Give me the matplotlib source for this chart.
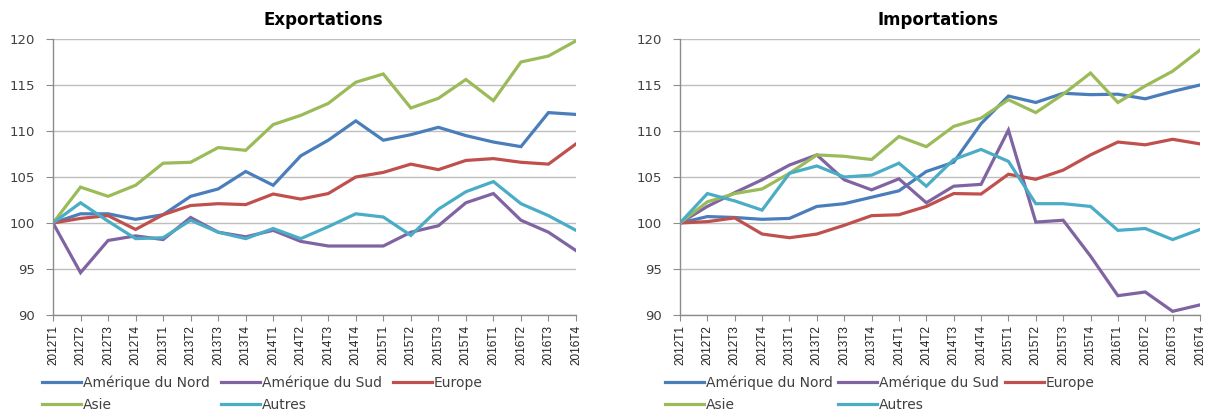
import matplotlib
matplotlib.use("Agg")
import matplotlib.pyplot as plt
from matplotlib import font_manager

quarters = ["2012T1", "2012T2", "2012T3", "2012T4", "2013T1", "2013T2", "2013T3", "2013T4",
            "2014T1", "2014T2", "2014T3", "2014T4", "2015T1", "2015T2", "2015T3", "2015T4",
            "2016T1", "2016T2", "2016T3", "2016T4"]
series_names = ["Amérique du Nord", "Amérique du Sud", "Europe", "Asie", "Autres"]

exp_amn = [100, 101.0, 101.0, 100.4, 100.9, 102.9, 103.7, 105.6, 104.1, 107.3, 109.0, 111.1,
           109.0, 109.6, 110.4, 109.5, 108.8, 108.3, 112.0, 111.8]
exp_ams = [100, 94.6, 98.1, 98.6, 98.2, 100.6, 99.0, 98.5, 99.2, 98.0, 97.5, 97.5,
           97.5, 99.0, 99.7, 102.2, 103.2, 100.3, 99.0, 97.0]
exp_eur = [100, 100.5, 100.8, 99.3, 100.9, 101.9, 102.1, 102.0, 103.15, 102.6, 103.2, 105.0,
           105.5, 106.4, 105.8, 106.8, 107.0, 106.6, 106.4, 108.6]
exp_asi = [100, 103.9, 102.9, 104.1, 106.5, 106.6, 108.2, 107.9, 110.7, 111.7, 113.0, 115.3,
           116.2, 112.5, 113.55, 115.6, 113.3, 117.5, 118.15, 119.8]
exp_aut = [100, 102.2, 100.2, 98.3, 98.4, 100.3, 99.0, 98.3, 99.4, 98.3, 99.6, 101.0,
           100.65, 98.65, 101.5, 103.4, 104.5, 102.1, 100.8, 99.2]

imp_amn = [100, 100.7, 100.6, 100.4, 100.5, 101.8, 102.1, 102.8, 103.5, 105.6, 106.6, 110.8,
           113.8, 113.1, 114.1, 113.95, 114.0, 113.5, 114.3, 115.0]
imp_ams = [100, 101.8, 103.3, 104.7, 106.3, 107.4, 104.7, 103.6, 104.8, 102.2, 104.0, 104.2,
           110.1, 100.1, 100.3, 96.4, 92.1, 92.5, 90.4, 91.1]
imp_eur = [100, 100.15, 100.55, 98.8, 98.4, 98.8, 99.75, 100.8, 100.9, 101.8, 103.2, 103.15,
           105.3, 104.75, 105.75, 107.4, 108.8, 108.5, 109.1, 108.6]
imp_asi = [100, 102.3, 103.2, 103.7, 105.4, 107.4, 107.25, 106.9, 109.4, 108.3, 110.5, 111.4,
           113.4, 112.0, 114.0, 116.3, 113.1, 114.9, 116.5, 118.8]
imp_aut = [100, 103.2, 102.4, 101.4, 105.4, 106.2, 105.0, 105.2, 106.5, 104.0, 106.9, 108.0,
           106.7, 102.1, 102.1, 101.8, 99.2, 99.4, 98.2, 99.3]

y_ticks = [90, 95, 100, 105, 110, 115, 120]
colors = ["#4A7EBB", "#8064A2", "#C0504D", "#9BBB59", "#4BACC6"]

names = {f.name for f in font_manager.fontManager.ttflist}
narrow = "Liberation Sans Narrow" if "Liberation Sans Narrow" in names else "Liberation Sans"
xt_size = 10 if narrow == "Liberation Sans Narrow" else 8.5

W, H = 1207, 412
fig = plt.figure(figsize=(W / 100, H / 100), dpi=100)


def px_axes(x0, x1, y_top, y_bot):
    return fig.add_axes([x0 / W, 1 - y_bot / H, (x1 - x0) / W, (y_bot - y_top) / H])


def draw(ax, data, title, title_x, leg_x, colspacing):
    xs = list(range(len(quarters)))
    handles = []
    for vals, c, n in zip(data, colors, series_names):
        h, = ax.plot(xs, vals, color=c, lw=2.3, label=n, solid_joinstyle="miter")
        handles.append(h)
    ax.set_xlim(0, len(quarters) - 1)
    ax.set_ylim(90, 120)
    ax.set_yticks(y_ticks)
    ax.set_xticks(xs)
    ax.set_xticklabels(quarters, rotation=90, fontfamily=narrow, fontsize=xt_size, color="#222222")
    for lab in ax.get_yticklabels():
        lab.set_fontsize(9.5)
        lab.set_color("#404040")
    ax.grid(axis="y", color="#BEBEBE", lw=1.0)
    ax.set_axisbelow(True)
    for s in ["top", "right"]:
        ax.spines[s].set_visible(False)
    for s in ["left", "bottom"]:
        ax.spines[s].set_color("#8C8C8C")
        ax.spines[s].set_linewidth(1.0)
    ax.tick_params(axis="y", length=5, color="#8C8C8C", pad=8)
    ax.tick_params(axis="x", length=4, color="#8C8C8C", pad=3)
    fig.text(title_x / W, 1 - 20 / H, title, ha="center", va="center",
             fontsize=12, fontweight="bold", color="#000000")
    order = [0, 3, 1, 4, 2]
    fig.legend([handles[i] for i in order], [series_names[i] for i in order],
               loc="upper left", bbox_to_anchor=(leg_x / W, 1 - 375 / H), ncol=3,
               frameon=False, fontsize=10, handlelength=2.8, handletextpad=0.15,
               columnspacing=colspacing, labelspacing=0.62, borderpad=0, borderaxespad=0,
               labelcolor="#404040")


ax1 = px_axes(53, 576, 39, 315)
draw(ax1, [exp_amn, exp_ams, exp_eur, exp_asi, exp_aut], "Exportations", 323, 42, 0.8)
ax2 = px_axes(680, 1200, 39, 315)
draw(ax2, [imp_amn, imp_ams, imp_eur, imp_asi, imp_aut], "Importations", 938, 665, 0.4)

fig.savefig("out.png", dpi=100)
